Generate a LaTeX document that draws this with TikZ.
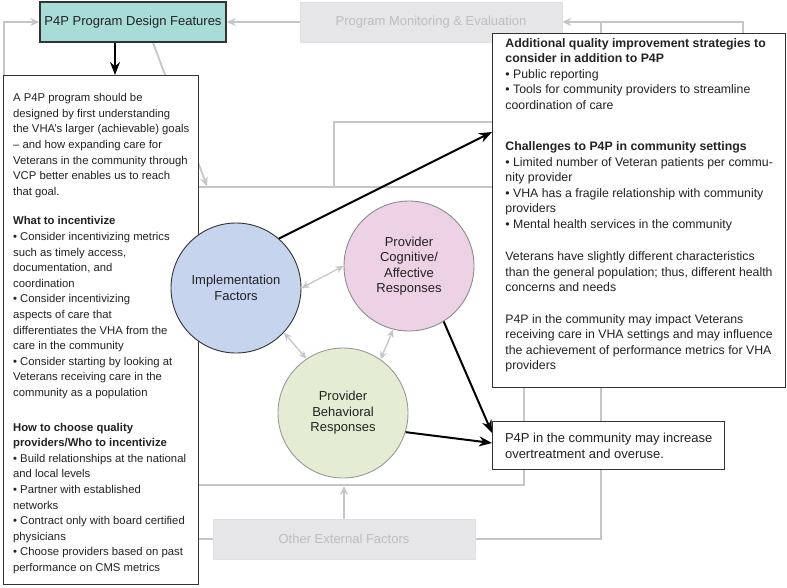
\documentclass[tikz,border=0pt]{standalone}
\usepackage{fontspec}
\setmainfont{Liberation Sans}
\usetikzlibrary{arrows.meta,backgrounds}

\definecolor{inkgrey}{HTML}{222222}
\definecolor{linegrey}{HTML}{C6C6C8}
\definecolor{boxgrey}{HTML}{E6E6E8}
\definecolor{fadetext}{HTML}{BDBDBF}
\definecolor{designteal}{HTML}{A8DCD8}
\definecolor{implblue}{HTML}{C6D4EE}
\definecolor{cogpink}{HTML}{EDD1E5}
\definecolor{behgreen}{HTML}{E4EDD4}

\tikzset{
  notebox/.style={draw=black!80, line width=1.4pt, fill=white, text=inkgrey,
    align=left, anchor=north west, inner xsep=8pt},
  fadebox/.style={draw=black!12, fill=boxgrey, text=fadetext, minimum height=40pt,
    font=\fontsize{13}{15.5}\selectfont},
  titlebox/.style={fadebox, draw=black!80, line width=1.4pt, fill=designteal, text=inkgrey},
  factor/.style={circle, line width=0.9pt, minimum size=130pt, inner sep=0pt,
    align=center, text=inkgrey, font=\fontsize{13}{15.5}\selectfont},
  feed/.style={draw=linegrey, line width=1.8pt},
  feedarrow/.style={feed, -{Stealth[length=9pt,width=8pt]}},
  linkarrow/.style={draw=linegrey, line width=1.3pt,
    {Stealth[length=8pt,width=7pt]}-{Stealth[length=8pt,width=7pt]}},
  flow/.style={draw=black, line width=2pt, -{Stealth[length=13pt,width=10pt]}},
}

\begin{document}
\begin{tikzpicture}[x=1pt,y=-1pt]
  \useasboundingbox (0,0) rectangle (787,587);
  % frame round the three factors
  \node[draw=linegrey, line width=1.8pt, minimum width=326pt, minimum height=298pt,
    inner sep=0pt] (frame) at (361,336) {};

  % top and bottom boxes
  \node[titlebox, minimum width=186pt] (design) at (133,22) {P4P Program Design Features};
  \node[fadebox, minimum width=262pt] (monitor) at (431,22) {Program Monitoring \& Evaluation};
  \node[fadebox, minimum width=262pt] (external) at (344,539) {Other External Factors};

  % left notes
  \node[notebox, minimum width=195pt, minimum height=509pt,
    font=\fontsize{11.3}{15.6}\selectfont] (designnotes) at (3,75) {%
    \rule{0pt}{15.3pt}A P4P program should be\\
    designed by first understanding\\
    the VHA’s larger (achievable) goals\\
    – and how expanding care for\\
    Veterans in the community through\\
    VCP better enables us to reach\\
    that goal.\\[14pt]
    \textbf{What to incentivize}\\
    • Consider incentivizing metrics\\
    such as timely access,\\
    documentation, and\\
    coordination\\
    • Consider incentivizing\\
    aspects of care that\\
    differentiates the VHA from the\\
    care in the community\\
    • Consider starting by looking at\\
    Veterans receiving care in the\\
    community as a population\\[19pt]
    \textbf{How to choose quality}\\
    \textbf{providers/Who to incentivize}\\
    • Build relationships at the national\\
    and local levels\\
    • Partner with established\\
    networks\\
    • Contract only with board certified\\
    physicians\\
    • Choose providers based on past\\
    performance on CMS metrics};

  % right notes
  \node[notebox, minimum width=293pt, minimum height=354pt,
    font=\fontsize{12.3}{15.5}\selectfont] (context) at (492,33) {%
    \textbf{Additional quality improvement strategies to}\\
    \textbf{consider in addition to P4P}\\
    • Public reporting\\
    • Tools for community providers to streamline\\
    coordination of care\\[26pt]
    \textbf{Challenges to P4P in community settings}\\
    • Limited number of Veteran patients per commu-\\
    nity provider\\
    • VHA has a fragile relationship with community\\
    providers\\
    • Mental health services in the community\\[17pt]
    Veterans have slightly different characteristics\\
    than the general population; thus, different health\\
    concerns and needs\\[16pt]
    P4P in the community may impact Veterans\\
    receiving care in VHA settings and may influence\\
    the achievement of performance metrics for VHA\\
    providers\rule[-13.5pt]{0pt}{13.5pt}};

  \node[notebox, minimum width=232pt, minimum height=48pt,
    font=\fontsize{13}{15.5}\selectfont] (outcome) at (492,421) {%
    P4P in the community may increase\\
    overtreatment and overuse.};

  % the three factors
  \node[factor, draw=black!80, fill=implblue] (impl) at (236,288) {Implementation\\Factors};
  \node[factor, draw=black!45, fill=cogpink] (cog) at (409,266) {Provider\\Cognitive/\\Affective\\Responses};
  \node[factor, draw=black!40, fill=behgreen] (beh) at (343,413) {Provider\\Behavioral\\Responses};

  % grey feedback lines behind the boxes
  \begin{scope}[on background layer]
    \draw[feedarrow] (monitor) -- (design);
    \draw[feedarrow] (153,0 |- design.south) -- (207,0 |- frame.north);
    \draw[feedarrow] (external.west) -- (4,0 |- external.west) |- (design.west);
    \draw[feedarrow] (external.east) -| (601,0 |- monitor.east) -- (monitor.east);
    \draw[feed] (743,0 |- context.north) |- (601,0 |- monitor.east);
    \draw[feed] (334,0 |- frame.north) |- (601,122);
    \draw[feedarrow] (external.north) -- (external.north |- frame.south);
  \end{scope}

  % links between the factors
  \foreach \a/\b in {impl.0/cog.180, impl.-43/beh.124, cog.256/beh.55}
    \draw[linkarrow] (\a) -- (\b);

  % black arrows
  \draw[flow] (design.south -| 115,0) -- (designnotes.north -| 115,0);
  \draw[flow] (impl.49) -- (context.west |- 0,132);
  \draw[flow] (cog.-58) -- (outcome.west |- 0,433);
  \draw[flow] (beh.-17) -- (outcome.west |- 0,443);
\end{tikzpicture}
\end{document}
